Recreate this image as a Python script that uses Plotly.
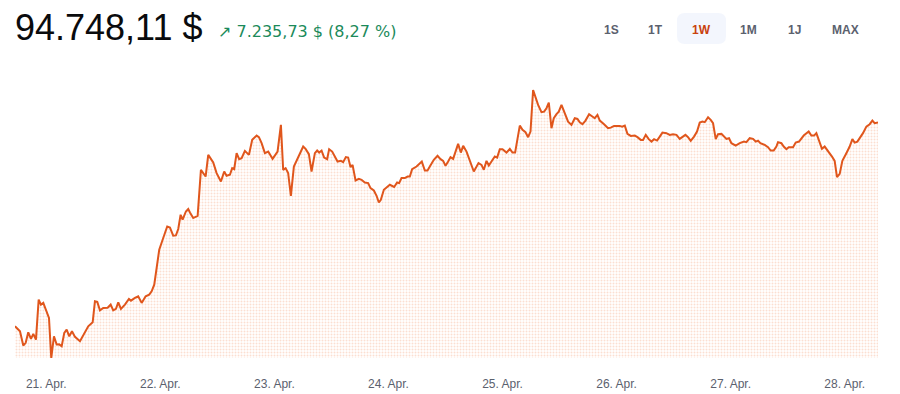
import pandas as pd
import plotly.graph_objects as go

# Hours since 2025-04-20 00:00
HOURS = [17.42,18.47,19.16,19.67,20.21,20.78,21.27,21.83,22.40,22.88,23.37,23.94,24.57,25.05,25.62,26.19,26.73,27.24,27.79,28.29,28.84,29.41,30.04,31.09,31.93,32.83,33.76,34.24,34.73,35.30,35.99,36.92,37.55,38.09,38.66,39.15,39.71,40.55,41.39,41.82,42.66,43.35,44.07,44.91,45.66,46.17,46.72,47.22,47.77,48.61,49.45,50.02,50.71,51.28,51.77,52.27,52.69,53.38,53.87,54.23,
         54.92,55.85,56.54,57.53,58.08,59.13,59.84,60.75,61.44,61.94,62.64,63.12,63.54,64.05,64.59,65.10,65.79,66.64,67.33,68.26,68.74,69.31,70.00,70.70,71.62,72.67,73.37,73.85,74.36,74.90,75.47,76.10,77.01,78.06,78.56,79.26,79.82,80.52,81.00,81.42,81.93,82.47,83.10,83.52,84.16,85.29,85.99,86.47,87.04,87.52,88.03,88.45,89.08,89.77,90.34,91.03,
         91.73,92.23,92.93,93.50,93.98,94.40,95.03,95.73,96.29,97.20,97.83,98.25,98.75,99.45,100.02,100.50,100.98,101.91,103.02,103.66,104.22,104.92,105.55,106.33,106.96,107.51,108.01,108.56,109.06,109.61,110.66,111.23,111.72,112.43,113.12,113.96,114.95,115.58,116.07,116.63,117.12,117.90,118.38,118.87,119.43,120.00,120.84,121.54,122.10,122.65,123.64,124.21,124.84,125.39,125.89,126.44,127.00,
         127.49,128.20,128.75,129.25,129.74,130.30,130.79,131.36,131.84,132.41,133.10,133.80,134.51,135.21,135.77,136.26,136.83,137.46,138.22,138.84,139.41,139.98,140.47,141.37,142.21,142.78,143.47,144.67,145.16,145.73,146.29,146.99,147.83,148.40,149.09,149.57,150.14,150.77,151.34,151.89,152.52,153.09,153.65,154.49,155.19,155.88,156.60,157.29,157.86,158.49,159.04,159.60,160.30,160.93,161.50,162.07,162.55,163.25,163.81,164.30,164.87,
         165.35,166.07,166.55,167.11,167.66,168.17,169.07,169.92,170.82,171.32,172.02,172.71,173.28,173.76,174.27,175.17,175.87,176.43,177.06,177.63,177.97,178.68,179.17,179.74,180.22,181.13,181.69,182.39,183.38,184.43,184.99,185.54,186.04,186.59,187.22,187.79,188.48,189.33,189.89,190.38,190.95,191.51,192.35,193.05,193.62,194.10,194.67,195.85,196.56,197.26,197.83,198.31,199.01]

PRICES = [87512,87335,86827,86923,87299,87065,87242,87040,88459,88282,88342,88104,87810,86391,87157,86863,86870,86803,87278,87395,87157,87335,87136,86980,87253,87512,87654,88399,88377,88080,88165,88170,88282,88080,88129,88363,88129,88282,88484,88423,88519,88576,88342,88576,88636,88753,88991,89523,90232,90647,91059,91023,90729,90740,90967,91474,91297,91591,91676,91555,
          91357,91438,93070,92832,93602,93329,92953,92655,93010,92857,92893,93130,93095,93662,93450,93485,93744,93602,94134,94287,94230,94017,93662,93719,93460,93719,94666,93070,93130,92953,92148,93187,93542,93897,93815,93627,93010,93662,93755,93684,93755,93506,93450,93804,93719,93364,93389,93343,93521,93506,93166,93247,92691,92751,92715,92620,
          92598,92421,92336,92148,91910,92006,92361,92456,92538,92460,92620,92598,92776,92776,92832,92832,93095,93187,93364,93045,93045,93247,93425,93567,93450,93389,93212,93364,93521,93460,93992,93684,93921,93719,93425,93010,93308,93247,93070,93389,93223,93450,93542,93506,93804,93804,93684,93815,93684,93684,94641,94489,94407,94230,94429,95908,95613,
          95376,95117,95138,95259,95457,94549,94904,95046,95138,95376,95081,94783,94666,94904,94879,94762,94691,94819,95046,94961,94904,95021,94819,94691,94549,94570,94631,94631,94606,94641,94347,94276,94287,94230,94134,94134,94312,94159,94074,94159,94109,94251,94393,94372,94312,94336,94312,94170,94230,94312,94230,94099,94251,94429,94748,94783,94762,94939,94844,94727,94159,
          94336,94347,94251,94170,94194,94017,93932,94017,94074,94053,94194,94170,94074,94109,94017,93957,93875,93755,93755,93897,94053,94017,93897,93804,93875,93875,94038,94074,94287,94429,94287,94287,94372,94134,93815,93897,93755,93542,93389,92811,92928,93389,93662,93897,94159,94038,94074,94372,94606,94691,94819,94727,94748.11]

TICK_DATES = ["2025-04-21", "2025-04-22", "2025-04-23", "2025-04-24",
              "2025-04-25", "2025-04-26", "2025-04-27", "2025-04-28"]
TICK_TEXT = ["21. Apr.", "22. Apr.", "23. Apr.", "24. Apr.",
             "25. Apr.", "26. Apr.", "27. Apr.", "28. Apr."]

PRICE_TEXT = "94.748,11 $"
CHANGE_TEXT = "↗ 7.235,73 $ (8,27 %)"
BUTTONS = ["1S", "1T", "1W", "1M", "1J", "MAX"]
ACTIVE = "1W"

base = pd.Timestamp("2025-04-20")
times = [base + pd.Timedelta(hours=h) for h in HOURS]

W, H = 900, 394
ML, MR, MT, MB = 15, 22, 60, 36
PW, PH = W - ML - MR, H - MT - MB


def px(x):
    return (x - ML) / PW


def py(y):
    return 1 - (y - MT) / PH


LINE = "#e0561c"
fig = go.Figure()
fig.add_trace(go.Scatter(
    x=times, y=PRICES, mode="lines",
    line=dict(color=LINE, width=2),
    fill="tozeroy",
    fillcolor="rgba(0,0,0,0)",
    fillpattern=dict(shape=".", fgcolor="#f7bfa4", bgcolor="white",
                     size=3, solidity=0.35),
    hoverinfo="x+y",
))

annotations = [
    dict(text=PRICE_TEXT, x=px(13), y=py(27), xanchor="left", yanchor="middle",
         font=dict(family="Liberation Sans", size=36, color="#0a0b0d")),
    dict(text=CHANGE_TEXT, x=px(216), y=py(31), xanchor="left", yanchor="middle",
         font=dict(family="DejaVu Sans", size=16, color="#1b8a5a")),
]
btn_centers = [611, 655, 701, 748.5, 794.5, 845]
for label, cx in zip(BUTTONS, btn_centers):
    annotations.append(dict(
        text="<b>%s</b>" % label, x=px(cx), y=py(29.5), xanchor="center",
        yanchor="middle",
        font=dict(family="Liberation Sans", size=12,
                  color="#c9420e" if label == ACTIVE else "#5b616e")))
for a in annotations:
    a.update(xref="paper", yref="paper", showarrow=False)

# rounded box behind active button
x0, x1, y0, y1, r = 677, 726, 13, 44, 8
pts = [("M", [(x0 + r, y0)]), ("L", [(x1 - r, y0)]), ("Q", [(x1, y0), (x1, y0 + r)]),
       ("L", [(x1, y1 - r)]), ("Q", [(x1, y1), (x1 - r, y1)]), ("L", [(x0 + r, y1)]),
       ("Q", [(x0, y1), (x0, y1 - r)]), ("L", [(x0, y0 + r)]), ("Q", [(x0, y0), (x0 + r, y0)])]
path = " ".join(c + " " + " ".join("%.5f,%.5f" % (px(a), py(b)) for a, b in p) for c, p in pts) + " Z"

fig.update_layout(
    width=W, height=H,
    margin=dict(l=ML, r=MR, t=MT, b=MB, autoexpand=False),
    paper_bgcolor="white", plot_bgcolor="white",
    showlegend=False,
    annotations=annotations,
    shapes=[dict(type="path", path=path, xref="paper", yref="paper",
                 fillcolor="#f3f6fd", line=dict(width=0), layer="below")],
    xaxis=dict(type="date", range=[times[0], times[-1]], automargin=False,
               tickvals=[pd.Timestamp(d) for d in TICK_DATES], ticktext=TICK_TEXT,
               showgrid=False, zeroline=False, showline=False,
               ticks="outside", ticklen=15, tickcolor="rgba(0,0,0,0)",
               tickfont=dict(family="Liberation Sans", size=12, color="#5b616e")),
    yaxis=dict(visible=False, range=[86385, 96972], fixedrange=True, automargin=False),
)

fig.write_html("out.html")
